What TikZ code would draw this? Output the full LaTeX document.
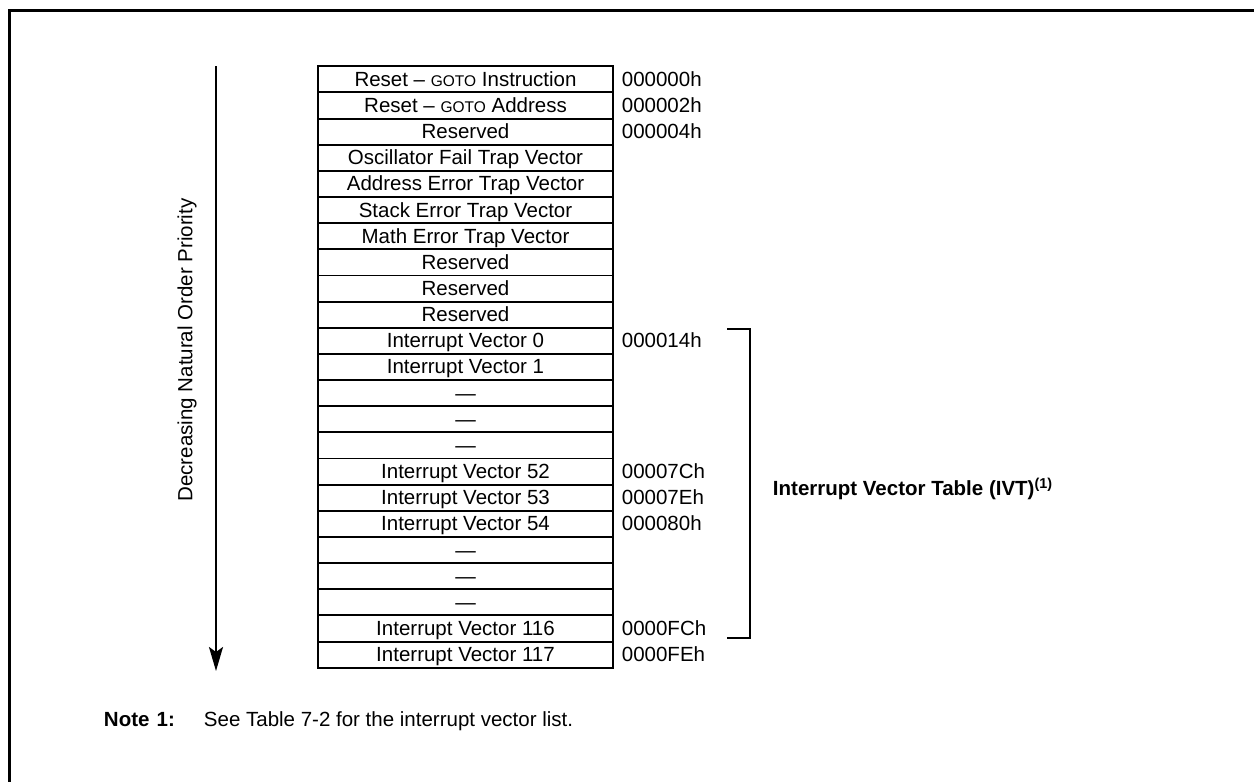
\documentclass[tikz,border=0pt]{standalone}
\usepackage{fontspec}
\setmainfont{Liberation Sans}
\usetikzlibrary{arrows.meta,calc}

\newcommand{\gotoword}{{\fontsize{15.5}{15.5}\selectfont GOTO}}

\begin{document}
\begin{tikzpicture}[x=1pt, y=-1pt, line width=1.9pt,
    font=\fontsize{20.5}{22}\selectfont,
    cell/.style={draw, minimum width=295pt, minimum height=26.15pt,
                 inner sep=0pt, text height=15pt, text depth=1pt,
                 anchor=north},
    addr/.style={anchor=west, inner sep=0pt, text height=15pt,
                 text depth=1pt}]

  \useasboundingbox (0,0) rectangle (1254,782);

  %--- Frame ---------------------------------------------------------------
  \draw[line width=3pt] (1254,10) -- (9.5,10) -- (9.5,782);

  %--- Vector table --------------------------------------------------------
  \foreach \txt [count=\i] in {{Reset -- \gotoword{} Instruction},
      {Reset -- \gotoword{} Address}, Reserved,
      Oscillator Fail Trap Vector, Address Error Trap Vector,
      Stack Error Trap Vector, Math Error Trap Vector,
      Reserved, Reserved, Reserved,
      Interrupt Vector 0, Interrupt Vector 1, ---, ---, ---,
      Interrupt Vector 52, Interrupt Vector 53, Interrupt Vector 54,
      ---, ---, ---, Interrupt Vector 116, Interrupt Vector 117}
    \node[cell] (r\i) at (465.5, {65.3+26.15*(\i-1)}) {\txt};

  %--- Addresses -----------------------------------------------------------
  \foreach \row/\adr in {1/000000h, 2/000002h, 3/000004h, 11/000014h,
                         16/00007Ch, 17/00007Eh, 18/000080h,
                         22/0000FCh, 23/0000FEh}
    \node[addr] (a\row) at ([xshift=7pt]r\row.east) {\adr};

  %--- IVT bracket ---------------------------------------------------------
  \coordinate (btop) at (727,329);
  \coordinate (bbot) at (727,638);
  \draw (btop) -- ++(23,0) |- (bbot);
  \node[anchor=west, inner sep=0pt] (ivt) at (772,489)
       {\textbf{Interrupt Vector Table (IVT)\textsuperscript{(1)}}};

  %--- Priority arrow ------------------------------------------------------
  \coordinate (ptop) at (216,66);
  \coordinate (pbot) at (216,671);
  \draw[line width=2.2pt, -{Stealth[length=24pt, width=14pt, inset=5pt]}]
       (ptop) -- (pbot);
  \node[rotate=90] (prio) at (187,350) {Decreasing Natural Order Priority};

  %--- Note ----------------------------------------------------------------
  \node[anchor=base west, inner sep=0pt] (note) at (103,726)
       {\textbf{Note\hspace{0.35em}1:}};
  \node[anchor=base west, inner sep=0pt] (notetxt) at (203,726)
       {See Table 7-2 for the interrupt vector list.};

\end{tikzpicture}
\end{document}
